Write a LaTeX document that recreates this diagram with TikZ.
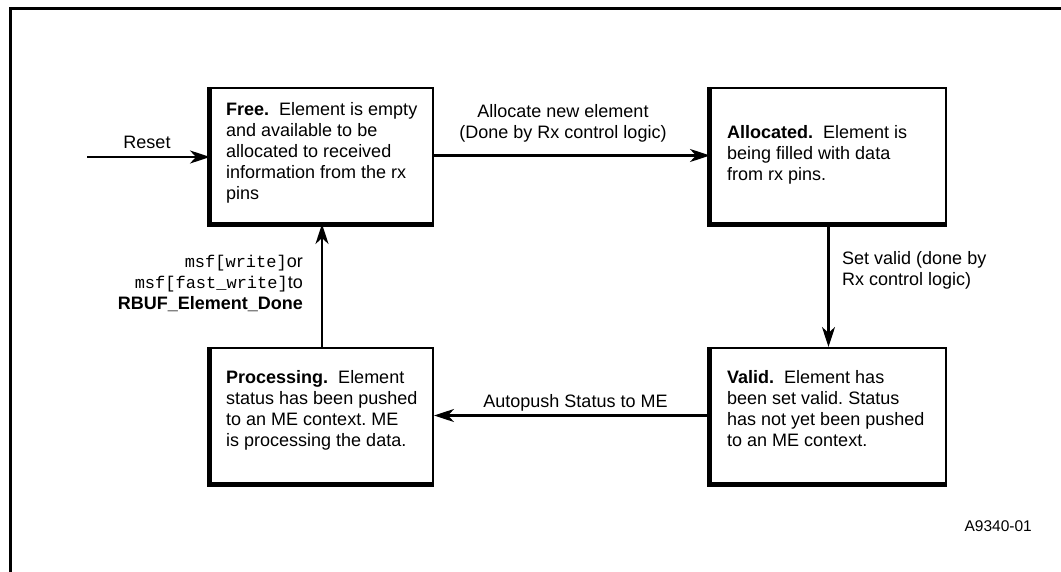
\documentclass[tikz,border=0pt]{standalone}
\usepackage{fontspec}
\setmainfont{Liberation Sans}
\setmonofont{Liberation Mono}
\usetikzlibrary{arrows.meta}
\frenchspacing
\begin{document}
\begin{tikzpicture}[x=1pt,y=-1pt,
  box/.style={draw, line width=2pt, inner sep=0pt, minimum height=135pt},
  txt/.style={anchor=north west, align=left, inner sep=0pt, font=\fontsize{18}{21}\selectfont},
  lbl/.style={inner sep=0pt, font=\fontsize{18}{21}\selectfont},
  arr/.style={line width=2.5pt, -{Stealth[length=20pt,width=13pt,inset=6pt]}},
  shadowedge/.style={line width=4.5pt, line join=miter}
]
\useasboundingbox (0,0) rectangle (1061,572);
\draw[line width=3pt] (10.5,572) -- (10.5,9) -- (1061,9);

% boxes
\node[box, minimum width=222pt] (free)  at (322,155.5) {};
\node[box, minimum width=235pt] (alloc) at (828.5,155.5) {};
\node[box, minimum width=235pt] (valid) at (828.5,415.5) {};
\node[box, minimum width=222pt] (proc)  at (322,415.5) {};

\foreach \b in {free,alloc,valid,proc}{
  \draw[shadowedge] ([xshift=-1pt]\b.north west) -- ([xshift=-1pt,yshift=-1pt]\b.south west) -- ([yshift=-1pt]\b.south east);
}

% box texts
\node[txt] (freetxt) at (226,102) {\textbf{Free.}\ \ Element is empty\\and available to be\\allocated to received\\information from the rx\\pins};
\node[txt] (alloctxt) at (727,125) {\textbf{Allocated.}\ \ Element is\\being filled with data\\from rx pins.};
\node[txt] (validtxt) at (727,370) {\textbf{Valid.}\ \ Element has\\been set valid. Status\\has not yet been pushed\\to an ME context.};
\node[txt] (proctxt) at (226,370) {\textbf{Processing.}\ \ Element\\status has been pushed\\to an ME context. ME\\is processing the data.};

% connectors
\coordinate (rst) at (87,157);
\draw[arr] (rst) -- (rst -| free.west);
\draw[arr] (free.east) -- (alloc.west);
\draw[arr] (alloc.south) -- (valid.north);
\draw[arr] (valid.west) -- (proc.east);
\draw[arr] (proc.north) -- (free.south);

% labels
\node[lbl, anchor=base] (lreset) at (147,149) {Reset};
\node[lbl, anchor=north, align=center] (lallocate) at (563,104) {Allocate new element\\(Done by Rx control logic)};
\node[lbl, anchor=north west, align=left] (lset) at (842,251) {Set valid (done by\\Rx control logic)};
\node[lbl, anchor=base] (lauto) at (575.5,407) {Autopush Status to ME};
\node[lbl, anchor=north east, align=right] (lmsf) at (303,255) {{\fontsize{17}{21}\ttfamily msf[write]}or\\{\fontsize{17}{21}\ttfamily msf[fast\_write]}to\\\textbf{RBUF\_Element\_Done}};
\node[inner sep=0pt, anchor=base east, font=\fontsize{15.5}{18}\selectfont] (fig) at (1032,531) {A9340-01};
\end{tikzpicture}
\end{document}
